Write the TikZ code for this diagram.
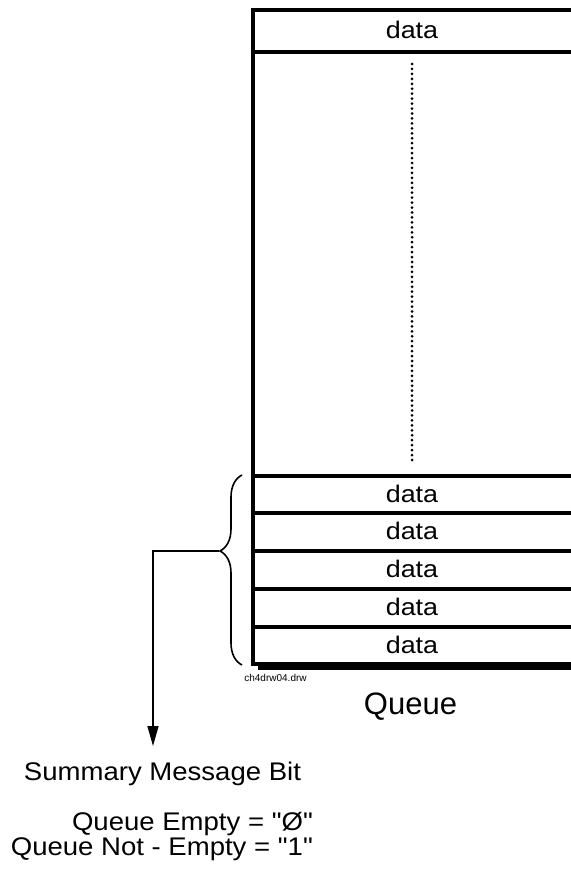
\documentclass[tikz,border=0pt]{standalone}
\usepackage{fontspec}
\setmainfont{Liberation Sans}[Ligatures=TeXOff]
\usetikzlibrary{arrows.meta,calc,positioning,decorations.pathreplacing}
\tikzset{every node/.style={font=\fontsize{25.5}{28}\selectfont\addfontfeatures{FakeStretch=1.08},inner sep=0pt,anchor=base}}
\tikzset{qline/.style={line width=3.2pt}}
\tikzset{cellbox/.style={font=\fontsize{24}{27}\selectfont\addfontfeatures{FakeStretch=1.12}}}

\begin{document}
\begin{tikzpicture}[x=1pt,y=-1pt]
  \useasboundingbox (0,0) rectangle (570,872);
  % --- queue outline (runs off the right edge) ---
  \fill (258,664) rectangle (580,670);
  \draw[qline] (580,10) -- (253,10) -- (253,664) -- (580,664);
  \foreach \y in {52,476,513,551,589,627}
    \draw[qline] (253,\y) -- (580,\y);
  % --- cells ---
  \node[cellbox] (d0) at (412,38.5) {data};
  \node[cellbox] (d1) at (412,502) {data};
  \node[cellbox] (d2) at (412,539.5) {data};
  \node[cellbox] (d3) at (412,577.5) {data};
  \node[cellbox] (d4) at (412,615.5) {data};
  \node[cellbox] (d5) at (412,653) {data};
  % --- dotted gap ---
  \coordinate (gaptop) at (412,64);
  \coordinate (gapbot) at (412,460);
  \draw[line width=3pt,line cap=round,dash pattern=on 0pt off 4.95pt] (gaptop) -- (gapbot);
  % --- brace over the last five cells ---
  \coordinate (brlo) at (242,665);
  \coordinate (brhi) at (242,475);
  \draw[line width=1.6pt,decorate,decoration={brace,amplitude=22pt,aspect=0.6}] (brlo) -- (brhi);
  \coordinate (brtip) at (219,551);
  % --- labels ---
  \node[font=\fontsize{10}{11}\selectfont] (file) at (275.5,681) {ch4drw04.drw};
  \node[font=\fontsize{31}{34}\selectfont] (queue) at (410.5,714) {Queue};
  \node (bit) at (162.5,780) {Summary Message Bit};
  \node[anchor=base east] (empty) at (313,830) {Queue Empty = "Ø"};
  \node[anchor=base east] (notempty) at (313,855) {Queue Not - Empty = "1"};
  % --- summary bit arrow ---
  \coordinate (bittop) at (153,746);
  \draw[line width=1.6pt,-{Triangle[length=20pt,width=11pt]}] (brtip) -| (bittop);
\end{tikzpicture}
\end{document}
